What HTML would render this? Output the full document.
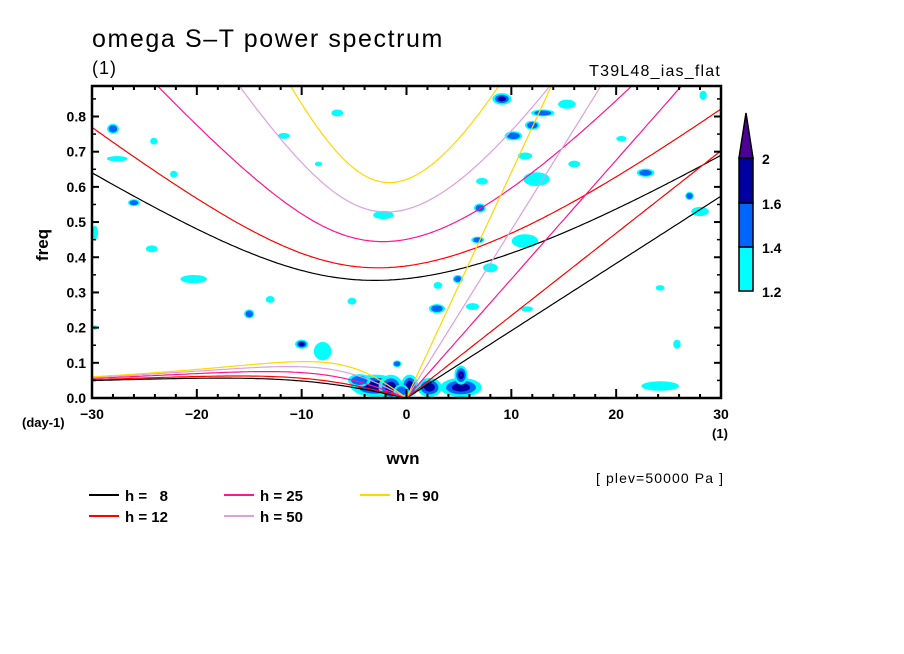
<!DOCTYPE html>
<html><head><meta charset="utf-8"><style>
body{margin:0;background:#fff;}
svg{display:block;font-family:"Liberation Sans",sans-serif;}
</style></head><body>
<svg id="chart" width="904" height="654" viewBox="0 0 904 654">
<rect width="904" height="654" fill="#fff"/>
<text x="92" y="47" font-size="25" letter-spacing="1.6">omega S–T power spectrum</text>
<text x="92" y="74" font-size="18" letter-spacing="1">(1)</text>
<text x="721" y="76" font-size="16" letter-spacing="1.2" text-anchor="end">T39L48_ias_flat</text>
<defs><clipPath id="clip"><rect x="92" y="86" width="629" height="312"/></clipPath></defs>
<g id="blobs" clip-path="url(#clip)"></g>
<g id="curves" clip-path="url(#clip)"></g>
<rect x="92" y="86" width="629" height="312" fill="none" stroke="#000" stroke-width="2.5"/>
<g id="axes"></g>
<text transform="translate(48,245) rotate(-90)" font-size="17" text-anchor="middle" font-weight="bold">freq</text>
<text x="22" y="427" font-size="13" font-weight="bold">(day-1)</text>
<text x="720" y="438" font-size="13" font-weight="bold" text-anchor="middle">(1)</text>
<text x="403" y="464" font-size="17" font-weight="bold" text-anchor="middle">wvn</text>
<text x="596" y="483" font-size="14" letter-spacing="1.1">[ plev=50000 Pa ]</text>
<g id="legend"></g>
<g id="cbar"></g>
</svg>
<script>
// data
const depths = [8, 12, 25, 50, 90];
const depthColors = ["#000000", "#ff0000", "#ff1493", "#dda0dd", "#ffd700"];
const levels = [1.2, 1.4, 1.6, 2];
const levelColors = ["#00ffff", "#0064ff", "#0000a0", "#4b0096"];
const yTicks = [0, 0.1, 0.2, 0.3, 0.4, 0.5, 0.6, 0.7, 0.8];
const xTicks = [-30, -20, -10, 0, 10, 20, 30];
// blobs: wavenumber, frequency, half-width (wvn), half-height (freq), level count
const blobWvn = [-28,-24.1,-27.6,-26,-22.2,-20.3,-15,-13,-10,-8,-5.2,-2.2,-6.6,-11.7,-24.3,-29.7,-29.7,-8.4,-0.9,
  9.1,13,15.3,12,10.2,11.3,12.4,16,7.2,7,11.3,6.8,8,4.9,3,2.9,6.3,11.5,22.8,27,28,28.3,24.2,25.8,24.2,20.5,
  -3,-1.5,-4.5,5.2,5.2,2.2,0.3,-0.5];
const blobFreq = [0.765,0.73,0.68,0.555,0.636,0.338,0.239,0.28,0.153,0.133,0.275,0.52,0.81,0.745,0.424,0.47,0.2,0.665,0.097,
  0.85,0.81,0.835,0.775,0.745,0.688,0.622,0.665,0.616,0.54,0.446,0.449,0.37,0.338,0.32,0.254,0.26,0.253,0.64,0.574,0.53,0.86,0.034,0.153,0.313,0.737,
  0.035,0.03,0.05,0.03,0.065,0.03,0.035,0.02];
const blobRx = [0.8,0.5,1.4,0.8,0.5,1.8,0.7,0.6,0.9,1.2,0.6,1.4,0.8,0.8,0.8,0.4,0.3,0.5,0.6,
  1.3,1.6,1.2,1,1.2,1,1.8,0.8,0.8,0.8,1.8,0.9,1,0.7,0.6,1.1,0.9,0.8,1.2,0.6,1.2,0.5,2,0.5,0.6,0.7,
  2.6,1.3,1.2,2.2,0.7,1.3,0.9,0.8];
const blobRy = [0.022,0.015,0.012,0.015,0.015,0.018,0.02,0.015,0.02,0.04,0.015,0.018,0.015,0.013,0.015,0.03,0.01,0.01,0.015,
  0.025,0.015,0.02,0.02,0.02,0.015,0.03,0.015,0.015,0.02,0.03,0.015,0.02,0.018,0.015,0.02,0.015,0.012,0.018,0.018,0.02,0.02,0.015,0.02,0.012,0.012,
  0.035,0.04,0.02,0.03,0.03,0.03,0.035,0.02];
const blobLevel = [2,1,1,2,1,1,2,1,3,1,1,1,1,1,1,1,1,1,2,
  3,2,1,2,2,1,1,1,1,2,1,2,1,2,1,2,1,1,2,2,1,1,1,1,1,1,
  3,3,2,3,4,3,3,2];

const X0=92,X1=721,Y0=398,Y1=86;
const xs = w => X0 + (w + 30) / 60 * (X1 - X0);
const ys = f => Y0 - f / 0.8 * (Y0 - 116.5);
const NS="http://www.w3.org/2000/svg";
function mk(t,a,p){const e=document.createElementNS(NS,t);for(const k in a)e.setAttribute(k,a[k]);p.appendChild(e);return e;}

// blobs
const bg=document.getElementById('blobs');
for(let i=0;i<blobWvn.length;i++){
  const big=blobFreq[i]<0.08;
  const sx=big?0.9:0.7, sy=big?0.9:0.65;
  for(let l=0;l<blobLevel[i];l++){
    const s=1-l*0.28;
    const e=mk('ellipse',{cx:xs(blobWvn[i]),cy:ys(blobFreq[i]),rx:blobRx[i]*s*sx*10.48,ry:blobRy[i]*s*sy*352,fill:levelColors[l]},bg);
    
    
  }
}

// dispersion curves (Matsuno shallow-water)
const a=6.371e6,beta=2*7.292e-5/a,g=9.81,cpd=86400/(2*Math.PI);
function root(k,c,w0){
  let w=w0;
  for(let it=0;it<60;it++){
    const f=w*w*w-(c*c*k*k+3*beta*c)*w-beta*c*c*k;
    const d=3*w*w-(c*c*k*k+3*beta*c);
    w-=f/d;
  }
  return w;
}
const cg=document.getElementById('curves');
depths.forEach((h,j)=>{
  const c=Math.sqrt(g*h);
  let ig='',ro='',kv='';
  for(let s=-30;s<=30.001;s+=0.25){
    const k=s/a;
    const wig=root(k,c,Math.sqrt(c*c*k*k+3*beta*c)*1.2);
    ig+=(ig?'L':'M')+xs(s).toFixed(1)+','+ys(wig*cpd).toFixed(1);
    if(s<=0){const wr=-beta*k/(k*k+3*beta/c);ro+=(ro?'L':'M')+xs(s).toFixed(1)+','+ys(wr*cpd).toFixed(1);}
    if(s>=0){kv+=(kv?'L':'M')+xs(s).toFixed(1)+','+ys(c*k*cpd).toFixed(1);}
  }
  [['ig-curve',ig],['rossby-curve',ro],['kelvin-curve',kv]].forEach(([n,d])=>{
    const p=mk('path',{d:d,fill:'none',stroke:depthColors[j],'stroke-width':1.2},cg);
    
    
  });
});

// axes
const ax=document.getElementById('axes');
yTicks.forEach(v=>{
  mk('line',{x1:X0,x2:X0+7,y1:ys(v),y2:ys(v),stroke:'#000','stroke-width':2},ax);
  mk('line',{x1:X1,x2:X1-7,y1:ys(v),y2:ys(v),stroke:'#000','stroke-width':2},ax);
  mk('line',{x1:X0,x2:X0+4,y1:ys(v+0.05),y2:ys(v+0.05),stroke:'#000','stroke-width':1.5},ax);
  mk('line',{x1:X1,x2:X1-4,y1:ys(v+0.05),y2:ys(v+0.05),stroke:'#000','stroke-width':1.5},ax);
  const t=mk('text',{x:86,y:ys(v)+5,'font-size':14,'font-weight':'bold','text-anchor':'end'},ax);
  t.textContent=v.toFixed(1);
  
  
});
for(let w=-30;w<=30;w+=2){
  const len=(w%10===0)?9:4;
  mk('line',{x1:xs(w),x2:xs(w),y1:Y0,y2:Y0-len,stroke:'#000','stroke-width':2},ax);
  mk('line',{x1:xs(w),x2:xs(w),y1:Y1,y2:Y1+len,stroke:'#000','stroke-width':2},ax);
}
xTicks.forEach(v=>{
  const t=mk('text',{x:xs(v),y:419,'font-size':14,'font-weight':'bold','text-anchor':'middle'},ax);
  t.textContent=v<0?'−'+(-v):String(v);
  
  
});

// legend
const lg=document.getElementById('legend');
const lx=[89,224,360],ly=[495,516];
depths.forEach((h,j)=>{
  const col=Math.floor(j/2),row=j%2;
  const cx=j===4?lx[2]:lx[col],cy=j===4?ly[0]:ly[row];
  const l=mk('line',{x1:cx,x2:cx+30,y1:cy,y2:cy,stroke:depthColors[j],'stroke-width':2},lg);
  
  
  const t=mk('text',{x:cx+36,y:cy+6,'font-size':15,'font-weight':'bold','xml:space':'preserve'},lg);
  t.textContent='h = '+(h<10?'\u00a0\u00a0':'')+h;
  
  
});

// colorbar
const cb=document.getElementById('cbar');
const cy=[291,247,203,158];
for(let i=0;i<3;i++){
  const r=mk('rect',{x:739,y:cy[i+1],width:14,height:cy[i]-cy[i+1],fill:levelColors[i],stroke:'#000','stroke-width':1.5},cb);
  
  
}
const tri=mk('polygon',{points:'739,158 753,158 746,113',fill:levelColors[3],stroke:'#000','stroke-width':1.5},cb);


levels.forEach((v,i)=>{
  const t=mk('text',{x:762,y:cy[i]+6,'font-size':14,'font-weight':'bold'},cb);
  t.textContent=String(v);
  
  
});
</script>
</body></html>
